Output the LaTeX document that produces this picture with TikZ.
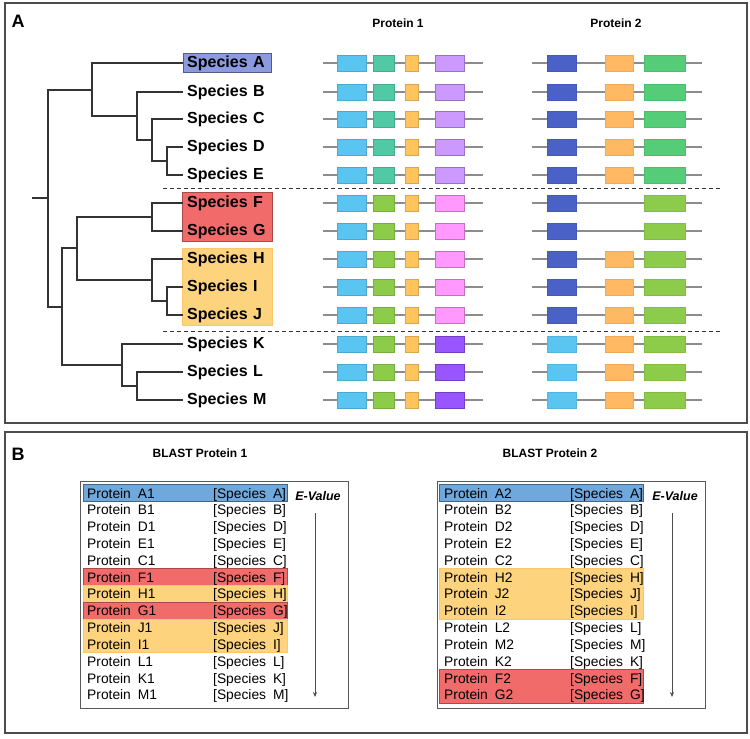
\documentclass[tikz,border=0pt]{standalone}
\usepackage{fontspec}
\setmainfont{Liberation Sans}
\usepackage{xcolor}
\usetikzlibrary{arrows.meta,fit,backgrounds}

\definecolor{dcyan}{HTML}{5BC5F2}
\definecolor{dteal}{HTML}{52C9A5}
\definecolor{dorange}{HTML}{FFC55C}
\definecolor{dorangeb}{HTML}{FFB962}
\definecolor{dlilac}{HTML}{CC99FF}
\definecolor{dpink}{HTML}{FF99FF}
\definecolor{dviolet}{HTML}{9955FF}
\definecolor{dlime}{HTML}{8DCC4A}
\definecolor{dblue}{HTML}{4A62C8}
\definecolor{demerald}{HTML}{55CC77}
\definecolor{hblue}{HTML}{6FA8DC}
\definecolor{hred}{HTML}{F26B6B}
\definecolor{horange}{HTML}{FDD37E}
\definecolor{sblue}{HTML}{8C9AE0}

\newcommand{\entryfont}{\fontsize{13.8}{16}\selectfont\spaceskip=0.5em\relax}

\begin{document}
\begin{tikzpicture}[
    x=1pt, y=-1pt,
    panel/.style={draw=black!70, line width=1.2pt},
    tag/.style={font=\fontsize{18}{20}\selectfont\bfseries, inner sep=0pt},
    head/.style={font=\fontsize{12}{14}\selectfont\bfseries, inner sep=0pt},
    species/.style={anchor=west, text width=80pt, align=left, inner xsep=4pt, inner ysep=0pt, minimum height=19pt, font=\fontsize{16}{19}\selectfont\bfseries},
    clade/.style={draw=black!80, line width=1.2pt},
    sep/.style={draw=black!80, line width=1pt, dash pattern=on 4pt off 3pt},
    backbone/.style={draw=black!45, line width=1.3pt},
    dom/.style={rectangle, minimum height=16pt, inner sep=0pt, line width=0.8pt},
    listbox/.style={rectangle, draw=black!65, line width=1pt, minimum width=268pt, minimum height=227pt},
    entry/.style={anchor=base west, inner sep=0pt, font=\entryfont},
    evalue/.style={font=\fontsize{12.5}{14}\selectfont\bfseries\itshape, inner sep=0pt},
    evarrow/.style={-{Stealth[length=5pt,width=4pt]}, draw=black!70, line width=0.8pt},
    hlblue/.style={fill=hblue, draw=hblue!60!black, line width=1pt},
    hlred/.style={fill=hred, draw=hred!70!black, line width=1pt},
    hlorange/.style={fill=horange, draw=horange!85!orange, line width=1pt}
]
\useasboundingbox (0,0) rectangle (750,739);

% Panels
\draw[panel] (5,3) rectangle (747,423);
\draw[panel] (5,432) rectangle (747,733);
\node[tag] (tagA) at (18,21) {A};
\node[tag] (tagB) at (18,454) {B};

% Species
\foreach \s/\y in {A/63,B/92,C/119,D/147,E/175,F/203,G/231,H/259,I/287,J/315,K/344,L/372,M/400}
    \node[species] (sp\s) at (183,\y) {Species \s};

\begin{scope}[on background layer]
\node[fit=(spA), inner sep=0pt, fill=sblue, draw=sblue!60!black, line width=1pt] (grpA) {};
\node[fit=(spF)(spG), inner sep=1pt, fill=hred, draw=hred!70!black, line width=1pt] (grpFG) {};
\node[fit=(spH)(spJ), inner sep=1pt, fill=horange, draw=horange!85!orange, line width=1pt] (grpHJ) {};
\end{scope}

% Tree
\coordinate (stub) at (32,198);
\coordinate (root) at (48,198);
\coordinate (nAE) at (92,90);
\coordinate (nBE) at (137,116);
\coordinate (nCE) at (152,140);
\coordinate (nDE) at (167,161);
\coordinate (nFM) at (62,307);
\coordinate (nFJ) at (77,248);
\coordinate (nFG) at (152,217);
\coordinate (nHJ) at (152,280);
\coordinate (nIJ) at (167,301);
\coordinate (nKM) at (122,365);
\coordinate (nLM) at (137,386);

\draw[clade] (stub) -- (root);
\draw[clade] (root) |- (nAE);
\draw[clade] (root) |- (nFM);
\draw[clade] (nAE) |- (spA.west);
\draw[clade] (nAE) |- (nBE);
\draw[clade] (nBE) |- (spB.west);
\draw[clade] (nBE) |- (nCE);
\draw[clade] (nCE) |- (spC.west);
\draw[clade] (nCE) |- (nDE);
\draw[clade] (nDE) |- (spD.west);
\draw[clade] (nDE) |- (spE.west);
\draw[clade] (nFM) |- (nFJ);
\draw[clade] (nFM) |- (nKM);
\draw[clade] (nFJ) |- (nFG);
\draw[clade] (nFJ) |- (nHJ);
\draw[clade] (nFG) |- (spF.west);
\draw[clade] (nFG) |- (spG.west);
\draw[clade] (nHJ) |- (spH.west);
\draw[clade] (nHJ) |- (nIJ);
\draw[clade] (nIJ) |- (spI.west);
\draw[clade] (nIJ) |- (spJ.west);
\draw[clade] (nKM) |- (spK.west);
\draw[clade] (nKM) |- (nLM);
\draw[clade] (nLM) |- (spL.west);
\draw[clade] (nLM) |- (spM.west);

% Group separators
\coordinate (sepAl) at (163,188);
\coordinate (sepAr) at (722,188);
\coordinate (sepBl) at (163,331);
\coordinate (sepBr) at (722,331);
\draw[sep] (sepAl) -- (sepAr);
\draw[sep] (sepBl) -- (sepBr);

% Protein headers
\node[head] (hp1) at (398,23) {Protein 1};
\node[head] (hp2) at (616,23) {Protein 2};

% Protein 1 domains
\foreach \s/\y/\cb/\cd in {A/63/dteal/dlilac, B/92/dteal/dlilac, C/119/dteal/dlilac, D/147/dteal/dlilac, E/175/dteal/dlilac,
    F/203/dlime/dpink, G/231/dlime/dpink, H/259/dlime/dpink, I/287/dlime/dpink, J/315/dlime/dpink,
    K/344/dlime/dviolet, L/372/dlime/dviolet, M/400/dlime/dviolet} {
    \draw[backbone] (323,\y) -- (483,\y);
    \node[dom, fill=dcyan, draw=dcyan!85!black, minimum width=29pt] (pa\s) at (351.5,\y) {};
    \node[dom, fill=\cb, draw=\cb!85!black, minimum width=21pt] (pb\s) at (383.5,\y) {};
    \node[dom, fill=dorange, draw=dorange!85!black, minimum width=13pt] (pc\s) at (411.5,\y) {};
    \node[dom, fill=\cd, draw=\cd!75!black, minimum width=29pt] (pd\s) at (449.5,\y) {};
}

% Protein 2 domains
\foreach \s/\y/\ca/\cc in {A/63/dblue/demerald, B/92/dblue/demerald, C/119/dblue/demerald, D/147/dblue/demerald, E/175/dblue/demerald,
    F/203/dblue/dlime, G/231/dblue/dlime, H/259/dblue/dlime, I/287/dblue/dlime, J/315/dblue/dlime,
    K/344/dcyan/dlime, L/372/dcyan/dlime, M/400/dcyan/dlime} {
    \draw[backbone] (532,\y) -- (702,\y);
    \node[dom, fill=\ca, draw=\ca!92!black, minimum width=29pt] (qa\s) at (561.5,\y) {};
    \node[dom, fill=\cc, draw=\cc!92!black, minimum width=41pt] (qc\s) at (664.5,\y) {};
}
\foreach \s/\y in {A/63,B/92,C/119,D/147,E/175,H/259,I/287,J/315,K/344,L/372,M/400}
    \node[dom, fill=dorangeb, draw=dorangeb!92!black, minimum width=28pt] (qb\s) at (619,\y) {};

% BLAST lists
\node[head] (bl1) at (200,453) {BLAST Protein 1};
\node[head] (bl2) at (550,453) {BLAST Protein 2};
\node[listbox] (list1) at (214,594.5) {};
\node[listbox] (list2) at (571.5,594.5) {};

% Highlighted hits
\foreach \x/\a/\b/\st in {83/0/1/hlblue, 83/5/6/hlred, 83/6/7/hlorange, 83/7/8/hlred, 83/8/10/hlorange,
    439/0/1/hlblue, 439/5/8/hlorange, 439/11/13/hlred} {
    \pgfmathsetmacro\ya{484.6+16.83*\a}
    \pgfmathsetmacro\yb{484.6+16.83*\b}
    \pgfmathsetmacro\xb{\x+204}
    \draw[\st] (\x,\ya) rectangle (\xb,\yb);
}

\foreach \p/\s [count=\i from 0] in {A1/A,B1/B,D1/D,E1/E,C1/C,F1/F,H1/H,G1/G,J1/J,I1/I,L1/L,K1/K,M1/M} {
    \pgfmathsetmacro\y{498+16.83*\i}
    \node[entry] (b1p\i) at (87,\y) {Protein \p};
    \node[entry] (b1s\i) at (213,\y) {[Species \s]};
}
\foreach \p/\s [count=\i from 0] in {A2/A,B2/B,D2/D,E2/E,C2/C,H2/H,J2/J,I2/I,L2/L,M2/M,K2/K,F2/F,G2/G} {
    \pgfmathsetmacro\y{498+16.83*\i}
    \node[entry] (b2p\i) at (444,\y) {Protein \p};
    \node[entry] (b2s\i) at (570,\y) {[Species \s]};
}

% E-value arrows
\node[evalue] (ev1) at (318,496) {E-Value};
\node[evalue] (ev2) at (675,496) {E-Value};
\coordinate (evend1) at (315,697);
\coordinate (evend2) at (672,697);
\draw[evarrow] ([yshift=-12pt]ev1.south -| evend1) -- (evend1);
\draw[evarrow] ([yshift=-12pt]ev2.south -| evend2) -- (evend2);

\end{tikzpicture}
\end{document}
